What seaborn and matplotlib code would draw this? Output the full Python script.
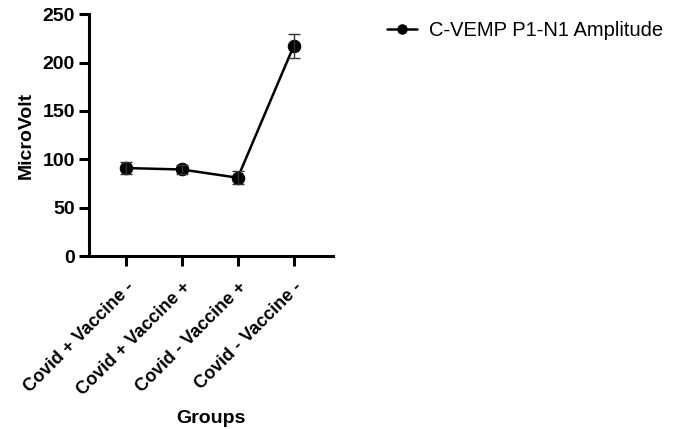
import numpy as np
import pandas as pd
import matplotlib
matplotlib.use("Agg")
import matplotlib.pyplot as plt
import seaborn as sns

groups = ["Covid + Vaccine -", "Covid + Vaccine +", "Covid - Vaccine +", "Covid - Vaccine -"]
amplitude = [91, 89.5, 81, 217]
sem = [6, 5, 7, 12]
series_name = "C-VEMP P1-N1 Amplitude"

sns.set_theme(style="ticks")
plt.rcParams["font.family"] = ["Liberation Sans", "DejaVu Sans"]
plt.rcParams["text.color"] = "black"
plt.rcParams["axes.labelcolor"] = "black"

df = pd.DataFrame({"Groups": groups, "MicroVolt": amplitude, "sem": sem})

fig = plt.figure(figsize=(6.82, 4.29), dpi=100)
ax = fig.add_axes([0.1305, 0.403, 0.3575, 0.564])

sns.lineplot(data=df, x="Groups", y="MicroVolt", marker="o", color="black",
             linewidth=1.8, markersize=9, markeredgecolor="black",
             label=series_name, ax=ax, sort=False)
ax.errorbar(np.arange(len(groups)), df["MicroVolt"], yerr=df["sem"], fmt="none",
            ecolor="#333333", elinewidth=1.0, capsize=4, capthick=1.0)

ax.set_xlim(-0.66, 3.7)
ax.set_ylim(0, 250)
ax.set_yticks([0, 50, 100, 150, 200, 250])
ax.set_xticks(range(len(groups)))
ax.set_xticklabels(groups, rotation=45, ha="right", rotation_mode="anchor",
                   fontsize=13, fontweight="bold")
for lab in ax.get_yticklabels():
    lab.set_fontsize(14)
    lab.set_fontweight("bold")
ax.set_xlabel("Groups", fontsize=14, fontweight="bold", labelpad=8)
ax.set_ylabel("MicroVolt", fontsize=14, fontweight="bold", labelpad=6)

for s in ["top", "right"]:
    ax.spines[s].set_visible(False)
for s in ["left", "bottom"]:
    ax.spines[s].set_linewidth(2.2)
    ax.spines[s].set_color("black")
ax.tick_params(axis="both", width=2.2, length=7, color="black", labelcolor="black")
ax.tick_params(axis="y", pad=3)
ax.tick_params(axis="x", pad=9)

ax.legend(loc="upper left", bbox_to_anchor=(1.19, 1.005), frameon=False,
          fontsize=14.5, handlelength=1.5, handletextpad=0.6, markerscale=0.75,
          borderaxespad=0)

fig.savefig("out.png", dpi=100, facecolor="white")
